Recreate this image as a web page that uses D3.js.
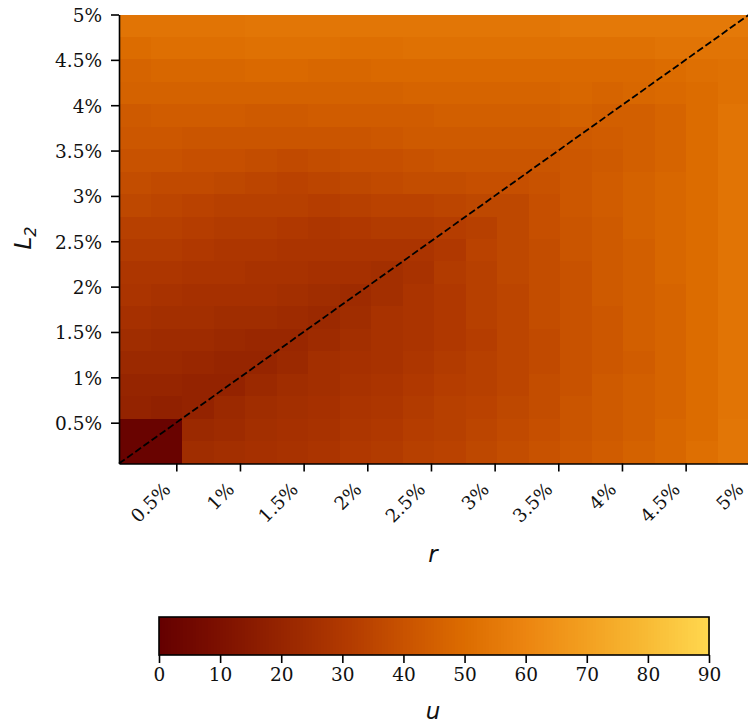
<!DOCTYPE html>
<html><head><meta charset="utf-8">
<script src="https://cdn.jsdelivr.net/npm/d3@7"></script>
<style>html,body{margin:0;padding:0;background:#fff;overflow:hidden}svg{display:block}
.tk text{font-family:"DejaVu Serif";font-size:18.5px;fill:#111}
.lab{font-family:"DejaVu Sans";font-style:italic;font-size:23px;fill:#111}
.sub{font-size:16px}</style></head><body>
<svg id="c" width="748" height="726"></svg>
<script>
const xTicks = [0.5,1,1.5,2,2.5,3,3.5,4,4.5,5];
const yTicks = [0.5,1,1.5,2,2.5,3,3.5,4,4.5,5];
const cbTicks = [0,10,20,30,40,50,60,70,80,90];
const colorStops = [0,10,20,30,40,50,60,70,80,90];
const colorValues = ["#640000","#7d1000","#962500","#b03800","#c85200","#dc6c00","#ec8510","#f3a020","#f8bb35","#ffd84f"];
const axisMin = 0.05, axisMax = 5;
// u values in blocks of 0.2475% x 0.2475%; first row is the top of the plot (L2 high), first column is the left (r low)
const uRows = [
[53,53,53,53,54,54,54,54,54,54,54,54,54,54,55,55,55,55,55,55],
[50,51,51,51,52,52,52,51,51,52,52,52,52,52,52,52,52,53,53,53],
[47,48,48,48,49,49,48,48,49,49,49,49,49,49,49,49,49,50,51,52],
[46,46,46,46,46,46,46,46,46,47,47,47,47,47,48,47,48,49,50,52],
[43,44,44,44,43,43,44,44,44,44,45,45,45,45,46,45,45,47,50,53],
[42,42,41,41,41,41,41,41,42,43,43,43,43,43,43,44,45,47,50,53],
[40,40,39,39,38,37,38,39,39,40,41,41,41,41,42,43,45,47,50,53],
[38,37,37,36,35,34,35,36,37,38,38,39,39,40,42,44,46,48,50,53],
[36,35,34,33,33,33,32,33,34,34,35,36,36,39,42,44,46,48,50,53],
[33,33,32,31,31,30,29,30,31,31,32,33,36,39,41,43,46,48,50,53],
[31,31,30,29,29,28,28,28,28,28,30,34,36,38,41,43,45,48,50,53],
[29,29,28,28,27,27,26,26,25,27,31,33,36,38,40,43,45,48,50,53],
[28,27,26,26,26,25,24,23,25,28,30,33,35,38,40,43,45,47,50,53],
[26,25,25,24,24,23,22,24,27,28,30,33,35,38,40,42,45,47,50,53],
[24,23,23,22,21,21,23,25,27,28,30,32,35,37,40,42,45,47,50,53],
[22,22,21,20,20,22,25,26,27,29,31,33,35,37,40,42,44,47,50,53],
[20,20,19,19,22,24,25,27,28,30,32,33,35,38,40,43,45,47,50,53],
[19,18,19,22,24,25,26,28,29,31,33,34,36,38,41,43,45,47,50,53],
[2,2,22,23,25,26,27,29,30,32,33,35,37,39,41,43,45,48,50,54],
[2,2,24,25,26,27,28,30,31,33,34,36,38,40,42,44,46,48,51,54]
];

const svg = d3.select("#c");
const x = d3.scaleLinear().domain([axisMin,axisMax]).range([119,749.3]);
const y = d3.scaleLinear().domain([axisMin,axisMax]).range([463.5,14.5]);
const color = d3.scaleLinear().domain(colorStops).range(colorValues);
const pct = d => d + "%";
const nCols = uRows[0].length, nRows = uRows.length;
const cw = (axisMax-axisMin)/nCols, ch = (axisMax-axisMin)/nRows;

const cells = uRows.flatMap((row,i)=>row.map((v,j)=>({v,
  r0:axisMin+j*cw, r1:axisMin+(j+1)*cw,
  l0:axisMax-i*ch, l1:axisMax-(i+1)*ch})));
svg.append("g").attr("shape-rendering","crispEdges").selectAll("rect").data(cells).join("rect")
  .attr("x",d=>x(d.r0)).attr("y",d=>y(d.l0))
  .attr("width",d=>x(d.r1)-x(d.r0)+0.5).attr("height",d=>y(d.l1)-y(d.l0)+0.5)
  .attr("fill",d=>color(d.v));

svg.append("line").attr("x1",x(axisMin)).attr("y1",y(axisMin)).attr("x2",x(axisMax)).attr("y2",y(axisMax))
  .attr("stroke","#000").attr("stroke-width",1.8).attr("stroke-dasharray","7 3");

function style(g){ g.attr("class","tk"); g.selectAll("path,line").attr("stroke","#000").attr("stroke-width",1.6); }
const gx = svg.append("g").attr("transform",`translate(0,${y(axisMin)})`)
  .call(d3.axisBottom(x).tickValues(xTicks).tickFormat(pct).tickSize(8).tickSizeOuter(0)).call(style);
gx.selectAll("text").attr("text-anchor","end").attr("dy",0).attr("y",0)
  .attr("transform","translate(-5,27) rotate(-45)");
const gy = svg.append("g").attr("transform",`translate(${x(axisMin)},0)`)
  .call(d3.axisLeft(y).tickValues(yTicks).tickFormat(pct).tickSize(8).tickSizeOuter(0)).call(style);
gy.selectAll("text").attr("x",-17).attr("y",1);

svg.append("text").attr("class","lab").attr("x",433).attr("y",562).attr("text-anchor","middle").text("r");
const yl = svg.append("text").attr("class","lab").attr("transform","translate(31,238) rotate(-90)").attr("text-anchor","middle");
yl.append("tspan").text("L");
yl.append("tspan").attr("class","sub").attr("dy",5).text("2");

// colourbar
const cb = d3.scaleLinear().domain([0,90]).range([159,709]);
const cbTop = 617, cbBottom = 655;
const cbSteps = d3.range(0,90,0.5);
svg.append("g").attr("shape-rendering","crispEdges").selectAll("rect").data(cbSteps).join("rect")
  .attr("x",d=>cb(d)).attr("y",cbTop).attr("width",d=>cb(d+0.5)-cb(d)+0.5).attr("height",cbBottom-cbTop)
  .attr("fill",d=>color(d+0.25));
svg.append("rect").attr("x",cb(0)).attr("y",cbTop).attr("width",cb(90)-cb(0)).attr("height",cbBottom-cbTop)
  .attr("fill","none").attr("stroke","#000").attr("stroke-width",1.6);
svg.append("g").attr("transform",`translate(0,${cbBottom})`)
  .call(d3.axisBottom(cb).tickValues(cbTicks).tickSize(8).tickSizeOuter(0)).call(style)
  .call(g=>g.select(".domain").remove())
  .selectAll("text").attr("y",13);
svg.append("text").attr("class","lab").attr("x",433).attr("y",719).attr("text-anchor","middle").text("u");
</script></body></html>
